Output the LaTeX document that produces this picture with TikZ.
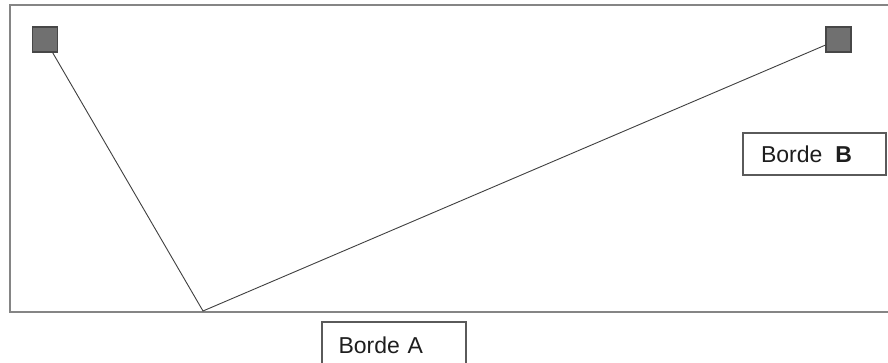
\documentclass[tikz,border=0pt]{standalone}
\usepackage{fontspec}
\setmainfont{Liberation Sans}
\definecolor{framegray}{HTML}{858585}
\definecolor{sqfill}{HTML}{707070}
\definecolor{sqdraw}{HTML}{474747}
\definecolor{linegray}{HTML}{404040}
\definecolor{boxgray}{HTML}{5A5A5A}
\definecolor{txt}{HTML}{1E1E1E}
\tikzset{
  frame/.style={draw=framegray, line width=2.2pt},
  anchorsq/.style={rectangle, draw=sqdraw, fill=sqfill, line width=1.2pt, minimum size=25pt, inner sep=0pt},
  wire/.style={draw=linegray, line width=0.9pt},
  labelbox/.style={rectangle, draw=boxgray, line width=1.2pt, fill=white, font=\fontsize{23}{27}\selectfont, text=txt, align=left},
}
\begin{document}
\begin{tikzpicture}[x=1pt, y=-1pt]
\useasboundingbox (0,0) rectangle (888,363);
\clip (0,0) rectangle (888,363);
\fill[white] (0,0) rectangle (888,363);
\draw[frame] (10,5) rectangle (905,312);
\node[anchorsq] (sqL) at (45,39.5) {};
\node[anchorsq] (sqR) at (838.5,39.5) {};
\coordinate (bottom) at (203,311);
\draw[wire] (sqL) -- (bottom) -- (sqR);
\node[labelbox, inner xsep=18pt, text width=107pt, minimum height=42pt, inner ysep=0pt] (bordeB) at (814.5,154) {Borde\hspace{13pt}\textbf{B}};
\node[labelbox, inner xsep=16.5pt, text width=111pt, minimum height=46pt, inner ysep=0pt] (bordeA) at (394,345) {Borde A};
\end{tikzpicture}
\end{document}
